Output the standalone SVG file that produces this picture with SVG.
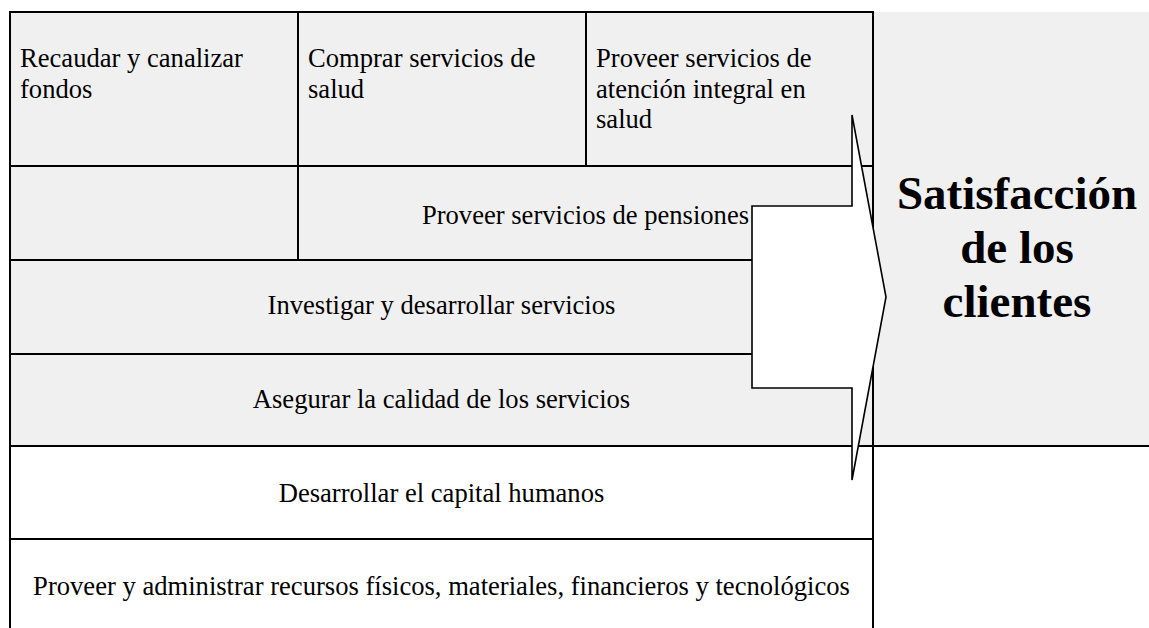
<svg xmlns="http://www.w3.org/2000/svg" width="1149" height="628" viewBox="0 0 1149 628">
<style>
.t{font-family:"Liberation Serif","Times New Roman",serif;font-size:26.6px;fill:#000}
.c{text-anchor:middle}
.b{font-family:"Liberation Serif","Times New Roman",serif;font-size:47px;font-weight:bold;fill:#000;text-anchor:middle}
.ln{stroke:#000;stroke-width:2;fill:none}
.g{fill:#f0f0f0}
</style>
<rect width="1149" height="628" fill="#fff"/>
<g id="backgrounds">
<rect class="g" x="10" y="12" width="863" height="434"/>
<rect class="g" x="873" y="12" width="276" height="434"/>
</g>
<g id="connectors">
<path class="ln" d="M10,12H874 M10,166H873 M10,260H873 M10,354H873 M10,446H1149 M10,539H873 M10,11V628 M298,12V260 M586,12V166 M873,11V628"/>
</g>
<g id="recaudar"><text class="t" x="20" y="67">Recaudar y canalizar</text><text class="t" x="20" y="98">fondos</text></g>
<g id="comprar"><text class="t" x="308" y="67">Comprar servicios de</text><text class="t" x="308" y="98">salud</text></g>
<g id="proveer-salud"><text class="t" x="596" y="67">Proveer servicios de</text><text class="t" x="596" y="98">atención integral en</text><text class="t" x="596" y="128">salud</text></g>
<g id="pensiones"><text class="t c" x="585.5" y="224">Proveer servicios de pensiones</text></g>
<g id="investigar"><text class="t c" x="441.5" y="314">Investigar y desarrollar servicios</text></g>
<g id="asegurar"><text class="t c" x="441.5" y="408">Asegurar la calidad de los servicios</text></g>
<g id="desarrollar"><text class="t c" x="441.5" y="502">Desarrollar el capital humanos</text></g>
<g id="recursos"><text class="t c" x="441.5" y="595">Proveer y administrar recursos físicos, materiales, financieros y tecnológicos</text></g>
<g id="arrow"><polygon points="752,206 852,206 852,115 886,297 852,480 852,388 752,388" fill="#fff" stroke="#000" stroke-width="1.6" stroke-linejoin="miter"/></g>
<g id="satisfaccion"><text class="b" x="1017" y="209">Satisfacción</text><text class="b" x="1017" y="263">de los</text><text class="b" x="1017" y="317">clientes</text></g>
</svg>
